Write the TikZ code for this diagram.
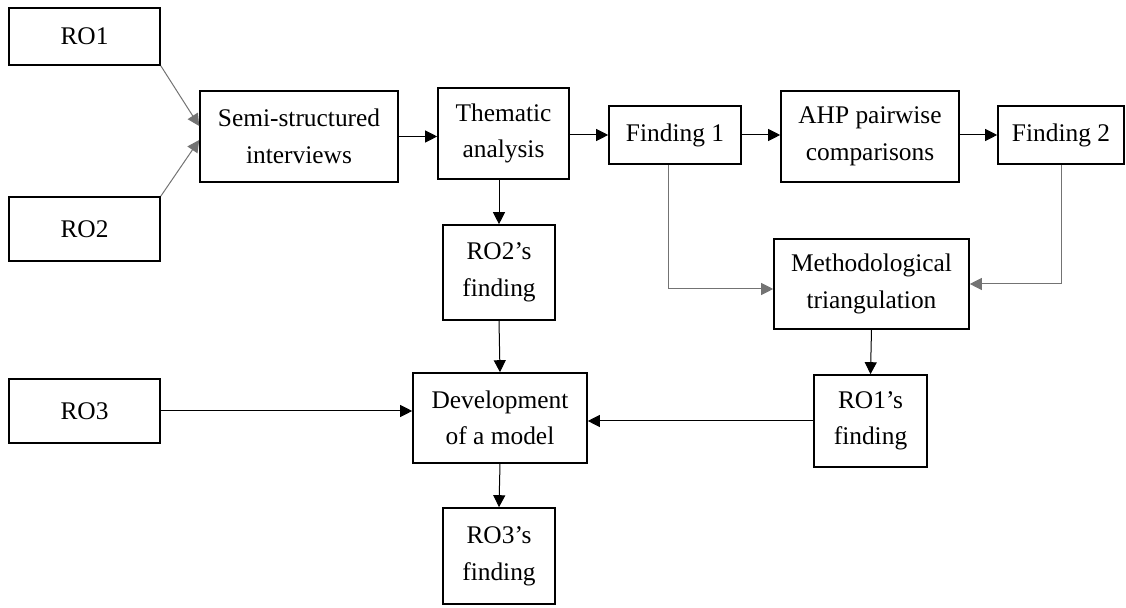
\documentclass[tikz,border=0pt]{standalone}
\usepackage{fontspec}
\setmainfont{Liberation Serif}
\usetikzlibrary{arrows.meta}
\tikzset{>={Triangle[width=6pt,length=6pt]}}

\begin{document}
\begin{tikzpicture}[x=0.5pt, y=-0.5pt, box/.style={draw=black, line width=0.8pt, align=center, inner sep=2pt, font=\fontsize{12.7}{18.3}\selectfont}, link/.style={->, line width=0.5pt}, greylink/.style={->, line width=0.5pt, draw=black!55}]
    \useasboundingbox (0,0) rectangle (1126,608);

    %Nodes
    \node[box, minimum width=75.5pt, minimum height=28.5pt](ro1) at (84.5,36.5){RO1};
    \node[box, minimum width=75.5pt, minimum height=32pt](ro2) at (84.5,229){RO2};
    \node[box, minimum width=75.5pt, minimum height=32pt](ro3) at (84.5,411){RO3};
    \node[box, minimum width=99pt, minimum height=45.5pt](semi) at (299,136.5){Semi-structured\\interviews};
    \node[box, minimum width=65.5pt, minimum height=45.5pt](them) at (503.5,133.5){Thematic\\analysis};
    \node[box, minimum width=66pt, minimum height=29pt](f1) at (675,135){Finding 1};
    \node[box, minimum width=89pt, minimum height=45.5pt](ahp) at (870,136.5){AHP pairwise\\comparisons};
    \node[box, minimum width=63pt, minimum height=29pt](f2) at (1061,135){Finding 2};
    \node[box, minimum width=56pt, minimum height=47.5pt](ro2f) at (499,272.5){RO2’s\\finding};
    \node[box, minimum width=97.5pt, minimum height=45pt](meth) at (871.5,284){Methodological\\triangulation};
    \node[box, minimum width=87pt, minimum height=45pt](dev) at (500,418){Development\\of a model};
    \node[box, minimum width=56.5pt, minimum height=46pt](ro1f) at (870.5,421){RO1’s\\finding};
    \node[box, minimum width=56pt, minimum height=48pt](ro3f) at (499,556){RO3’s\\finding};

    %Lines
    \draw[greylink] (ro1.south east) -- (semi.174);
    \draw[greylink] (ro2.north east) -- (semi.182);
    \draw[link] (semi.east) -- (semi.east -| them.west);
    \draw[link] (them.east |- f1.west) -- (f1.west);
    \draw[link] (f1.east) -- (f1.east -| ahp.west);
    \draw[link] (ahp.east |- f2.west) -- (f2.west);
    \draw[link] (them.south -| ro2f.north) -- (ro2f.north);
    \draw[link] (ro2f.south) -- (dev.north);
    \draw[greylink] ([xshift=-3.5pt]f1.south) |- ([yshift=-2.5pt]meth.west);
    \draw[greylink] (f2.south) |- (meth.east);
    \draw[link] (meth.south) -- (ro1f.north);
    \draw[link] (ro1f.west) -- (ro1f.west -| dev.east);
    \draw[link] (ro3.east) -- (ro3.east -| dev.west);
    \draw[link] (dev.south) -- (ro3f.north);

\end{tikzpicture}
\end{document}
